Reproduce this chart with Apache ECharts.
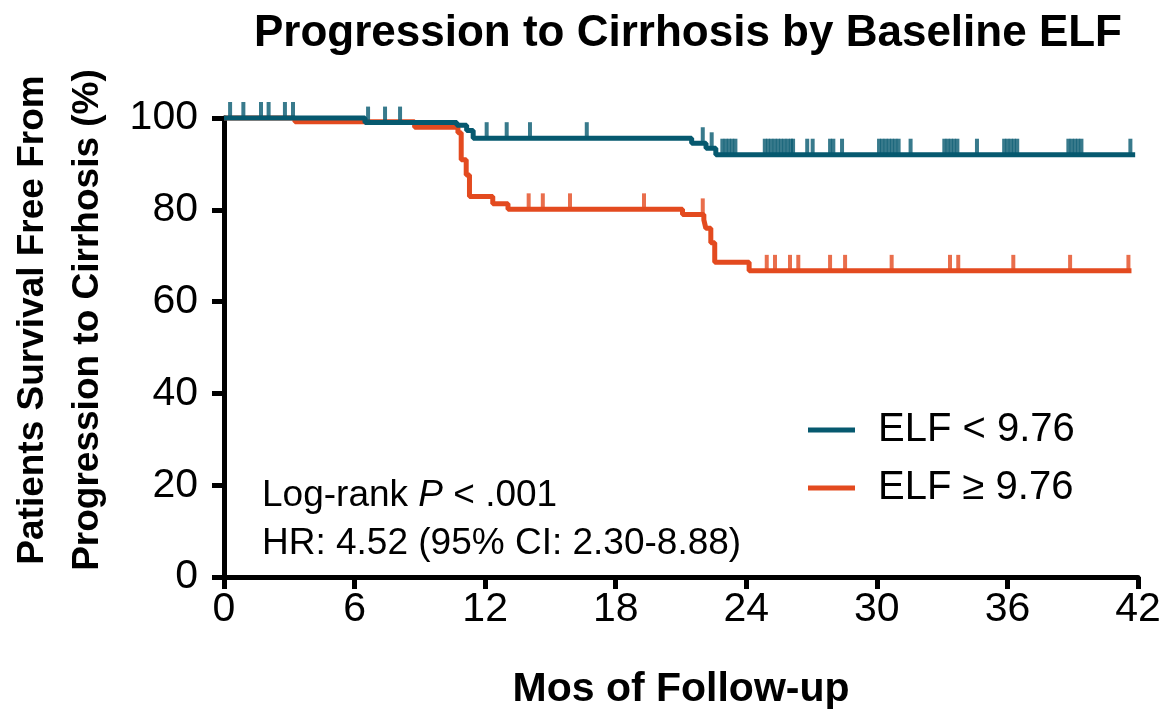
<!DOCTYPE html>
<html>
<head>
<meta charset="utf-8">
<script src="https://cdn.jsdelivr.net/npm/echarts@6/dist/echarts.min.js"></script>
<style>html,body{margin:0;padding:0;background:#fff;}#c{width:1171px;height:715px;}</style>
</head>
<body>
<div id="c"></div>
<script>
// ---- data ----
var seriesNames = ['ELF < 9.76', 'ELF \u2265 9.76'];
var xTicks = [0, 6, 12, 18, 24, 30, 36, 42];
var yTicks = [0, 20, 40, 60, 80, 100];

// Kaplan-Meier step points [month, % free]
var lowElfCurve = [[0,100],[6.48,99.0],[10.7,98.4],[11.15,97.3],[11.45,95.6],[21.49,94.5],[22.15,93.4],[22.6,92.0],[41.87,92.0]];
var highElfCurve = [[0,100],[3.26,99.2],[8.76,98.0],[10.75,96.8],[10.9,90.9],[11.13,87.6],[11.28,82.9],[12.35,81.3],[13.05,80.1],[21.07,79.0],[22.05,77.8],[22.14,76.0],[22.37,72.8],[22.55,68.6],[24.13,66.7],[41.7,66.7]];

// censoring times (months)
var lowElfCensor = [0.28,0.89,1.7,2.05,2.8,3.17,6.62,7.4,8.09,12.07,12.99,14.06,16.67,22.0,22.41,
  22.9,23.05,23.2,23.35,23.5,
  24.85,25.0,25.15,25.3,25.45,25.6,25.75,25.9,26.05,26.15,
  26.8,27.05,27.85,28.0,28.4,
  30.1,30.25,30.4,30.55,30.7,30.85,31.0,31.55,
  33.1,33.25,33.4,33.55,33.7,34.6,
  35.85,36.0,36.15,36.3,36.45,
  38.8,38.95,39.1,39.25,39.4,41.65];
var highElfCensor = [14.0,14.65,15.9,19.3,22.0,24.94,25.32,26.01,26.39,27.85,28.54,30.68,33.36,33.74,36.27,38.88,41.56];

var colorLow = '#06596f';
var colorHigh = '#e34a1f';
var FONT = 'Liberation Sans';

function stepValue(curve, t) {
  var v = curve[0][1];
  for (var i = 0; i < curve.length; i++) { if (curve[i][0] <= t) v = curve[i][1]; }
  return v;
}
function censorPoints(curve, times) {
  return times.map(function (t) { return [t, stepValue(curve, t)]; });
}

var chart = echarts.init(document.getElementById('c'));
chart.setOption({
  animation: false,
  backgroundColor: '#fff',
  title: {
    text: 'Progression to Cirrhosis by Baseline ELF',
    left: 249, top: 7,
    textStyle: { fontFamily: FONT, fontWeight: 'bold', fontSize: 44, color: '#000' }
  },
  legend: {
    data: seriesNames,
    orient: 'vertical',
    left: 808, top: 410, padding: 0,
    itemWidth: 47, itemHeight: 5, itemGap: 18,
    icon: 'rect',
    textStyle: { fontFamily: FONT, fontSize: 40, color: '#000', padding: [0, 0, 0, 18] }
  },
  grid: { left: 224, right: 33, top: 118, bottom: 137, containLabel: false },
  xAxis: {
    type: 'value', min: 0, max: 42, interval: 6,
    name: 'Mos of Follow-up', nameLocation: 'middle', nameGap: 92,
    nameTextStyle: { fontFamily: FONT, fontWeight: 'bold', fontSize: 41, color: '#000' },
    axisLine: { onZero: false, lineStyle: { color: '#000', width: 5 } },
    axisTick: { show: true, length: 12, lineStyle: { color: '#000', width: 5 } },
    axisLabel: { margin: 12, fontFamily: FONT, fontSize: 41, color: '#000',
      formatter: function (v) { return xTicks.indexOf(v) >= 0 ? String(v) : ''; } },
    splitLine: { show: false }
  },
  yAxis: {
    type: 'value', min: 0, max: 100, interval: 20,
    axisLine: { show: true, onZero: false, lineStyle: { color: '#000', width: 5 } },
    axisTick: { show: true, length: 12, lineStyle: { color: '#000', width: 5 } },
    axisLabel: { margin: 26, fontFamily: FONT, fontSize: 41, color: '#000',
      formatter: function (v) { return yTicks.indexOf(v) >= 0 ? String(v) : ''; } },
    splitLine: { show: false }
  },
  graphic: [
    {
      type: 'text', x: 60, y: 320, rotation: Math.PI / 2,
      style: {
        text: 'Patients Survival Free From\nProgression to Cirrhosis (%)',
        fontFamily: FONT, fontWeight: 'bold', fontSize: 37, lineHeight: 55,
        fill: '#000', align: 'center', verticalAlign: 'middle'
      }
    },
    {
      type: 'text', left: 262, top: 477,
      style: {
        text: '{a|Log-rank }{b|P}{a| < .001}',
        rich: {
          a: { fontFamily: FONT, fontSize: 37, fill: '#000' },
          b: { fontFamily: FONT, fontSize: 37, fontStyle: 'italic', fill: '#000' }
        }
      }
    },
    {
      type: 'text', left: 262, top: 525,
      style: { text: 'HR: 4.52 (95% CI: 2.30-8.88)', fontFamily: FONT, fontSize: 37, fill: '#000' }
    }
  ],
  series: [
    {
      name: seriesNames[1], type: 'line', step: 'end', data: highElfCurve,
      showSymbol: false, clip: false, z: 2,
      lineStyle: { color: colorHigh, width: 5 }, itemStyle: { color: colorHigh }
    },
    {
      name: 'censorHigh', type: 'scatter', data: censorPoints(highElfCurve, highElfCensor),
      symbol: 'rect', symbolSize: [4, 16], symbolOffset: [0, -8], clip: false, z: 3,
      itemStyle: { color: colorHigh }
    },
    {
      name: seriesNames[0], type: 'line', step: 'end', data: lowElfCurve,
      showSymbol: false, clip: false, z: 4,
      lineStyle: { color: colorLow, width: 5 }, itemStyle: { color: colorLow }
    },
    {
      name: 'censorLow', type: 'scatter', data: censorPoints(lowElfCurve, lowElfCensor),
      symbol: 'rect', symbolSize: [4, 16], symbolOffset: [0, -8], clip: false, z: 5,
      itemStyle: { color: colorLow }
    }
  ]
});
</script>
</body>
</html>
